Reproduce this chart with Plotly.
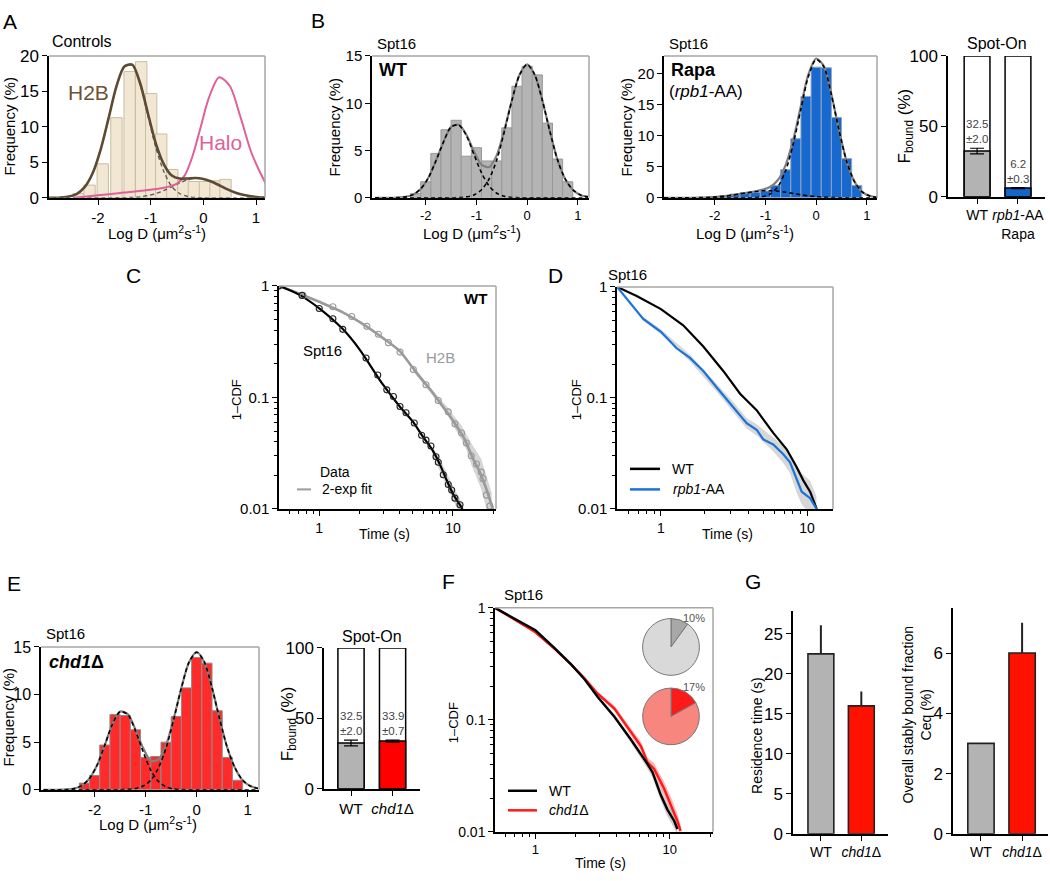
import plotly.graph_objects as go

W, H = 1050, 881

# ---------------- DATA ----------------
# shared Log D grid for the Gaussian-fit curves
logd_grid = [-3.0, -2.85, -2.7, -2.55, -2.4, -2.25, -2.1, -1.95, -1.8, -1.65, -1.5, -1.35, -1.2,
             -1.05, -0.9, -0.75, -0.6, -0.45, -0.3, -0.15, 0.0, 0.15, 0.3, 0.45, 0.6, 0.75, 0.9, 1.05, 1.2]

# A  Controls: H2B histogram + fits, Halo fit
a_bin_centers = [-2.37, -2.16, -1.91, -1.65, -1.40, -1.18, -0.99, -0.80, -0.59, -0.38, -0.18, 0.03, 0.23, 0.42]
a_h2b_freq = [0.6, 1.8, 4.8, 11.3, 17.8, 19.2, 14.7, 9.0, 4.0, 2.7, 2.3, 2.3, 2.4, 2.6]
a_fit_slow = [0, 0.01, 0.05, 0.18, 0.57, 1.54, 3.5, 6.8, 11.2, 15.7, 18.5, 18.7, 16.0, 11.5, 7.0, 3.7, 1.6,
              0.62, 0.19, 0.05, 0.01, 0, 0, 0, 0, 0, 0, 0, 0]
a_fit_fast = [0, 0, 0, 0, 0, 0, 0, 0, 0, 0.01, 0.02, 0.07, 0.15, 0.32, 0.61, 1.03, 1.55, 2.1, 2.54, 2.74,
              2.65, 2.3, 1.78, 1.23, 0.76, 0.43, 0.21, 0.09, 0.04]
a_fit_total = [0, 0.01, 0.05, 0.18, 0.57, 1.54, 3.5, 6.8, 11.2, 15.71, 18.52, 18.77, 16.15, 11.82, 7.61, 4.73,
               3.15, 2.72, 2.73, 2.79, 2.66, 2.3, 1.78, 1.23, 0.76, 0.43, 0.21, 0.09, 0.04]
halo_logd = [-2.45, -2.0, -1.5, -1.0, -0.7, -0.5, -0.35, -0.2, -0.05, 0.1, 0.3, 0.5, 0.7, 0.9, 1.05, 1.2]
halo_freq = [0, 0.35, 0.75, 1.15, 1.5, 2.0, 3.2, 6.0, 10.0, 14.0, 17.0, 15.8, 11.5, 6.6, 4.0, 1.8]

# B  Spt16 WT histogram + fits
wt_bin_centers = [-2.2, -2.0, -1.8, -1.6, -1.4, -1.2, -1.0, -0.8, -0.6, -0.4, -0.2, 0.0, 0.2, 0.4, 0.6, 0.8]
wt_freq = [0.45, 1.7, 4.7, 7.2, 8.2, 4.4, 5.3, 3.9, 3.9, 7.4, 11.8, 13.9, 13.0, 7.9, 4.1, 1.7]
wt_fit_slow = [0, 0, 0.005, 0.03, 0.10, 0.34, 0.94, 2.1, 3.9, 5.9, 7.5, 7.7, 6.6, 4.6, 2.65, 1.25, 0.49,
               0.16, 0.04, 0.01, 0, 0, 0, 0, 0, 0, 0, 0, 0]
wt_fit_fast = [0, 0, 0, 0, 0, 0, 0, 0, 0, 0, 0.01, 0.03, 0.10, 0.31, 0.86, 2.0, 4.0, 7.0, 10.3, 13.0, 14.1,
               13.0, 10.3, 7.0, 4.0, 2.0, 0.86, 0.31, 0.10]
wt_fit_total = [0, 0, 0.005, 0.03, 0.10, 0.34, 0.94, 2.1, 3.9, 5.9, 7.51, 7.73, 6.7, 4.91, 3.51, 3.25, 4.49,
                7.16, 10.34, 13.01, 14.1, 13.0, 10.3, 7.0, 4.0, 2.0, 0.86, 0.31, 0.10]

# B  Spt16 Rapa (rpb1-AA) histogram + fits
rapa_bin_centers = [-2.0, -1.8, -1.6, -1.4, -1.2, -1.0, -0.8, -0.6, -0.4, -0.2, 0.0, 0.2, 0.4, 0.6, 0.8]
rapa_freq = [0.2, 0.35, 0.6, 0.8, 0.9, 1.1, 2.0, 4.5, 9.5, 16.3, 21.0, 20.9, 12.9, 6.3, 2.0]
rapa_fit_slow = [0, 0, 0.003, 0.007, 0.017, 0.04, 0.08, 0.16, 0.27, 0.43, 0.63, 0.83, 1.01, 1.13, 1.14, 1.06,
                 0.90, 0.70, 0.49, 0.32, 0.19, 0.10, 0.05, 0.02, 0.01, 0, 0, 0, 0]
rapa_fit_fast = [0, 0, 0, 0, 0, 0, 0, 0, 0, 0, 0, 0.01, 0.05, 0.19, 0.65, 1.85, 4.4, 8.7, 14.3, 19.6, 22.2,
                 21.1, 16.6, 10.9, 5.9, 2.7, 1.0, 0.32, 0.08]
rapa_fit_total = [0, 0, 0.003, 0.007, 0.017, 0.04, 0.08, 0.16, 0.27, 0.43, 0.63, 0.84, 1.06, 1.32, 1.79, 2.91,
                  5.3, 9.4, 14.79, 19.92, 22.39, 21.2, 16.65, 10.92, 5.91, 2.7, 1.0, 0.32, 0.08]

# B / E  Spot-On bound fractions
spot_b_labels = ["WT", "<i>rpb1</i>-AA<br>Rapa"]
spot_b_fbound = [32.5, 6.2]
spot_b_err = [2.0, 0.3]
spot_e_labels = ["WT", "<i>chd1</i>Δ"]
spot_e_fbound = [32.5, 33.9]
spot_e_err = [2.0, 0.7]
spot_total = [100, 100]

# C  survival curves WT: Spt16 and H2B
c_spt16_t = [0.5, 0.743, 1.0, 1.265, 1.50, 2.24, 2.74, 3.2, 3.59, 4.02, 4.46, 5.14, 5.83, 6.29, 6.85, 7.47,
             7.77, 8.47, 9.23, 9.78, 10.35, 11.3]
c_spt16_p = [1.0, 0.822, 0.628, 0.507, 0.408, 0.226, 0.159, 0.117, 0.102, 0.083, 0.073, 0.059, 0.0458, 0.0414,
             0.0367, 0.0294, 0.0262, 0.0203, 0.0166, 0.0148, 0.0125, 0.0109]
c_spt16_fit_t = [0.5, 0.7, 1.0, 1.5, 2.0, 3.0, 4.0, 5.0, 6.0, 7.0, 8.0, 9.0, 10.0, 11.0, 11.8]
c_spt16_fit_p = [1.0, 0.84, 0.63, 0.41, 0.27, 0.13, 0.083, 0.061, 0.044, 0.034, 0.025, 0.018, 0.0137, 0.0114, 0.010]
c_spt16_band_t = [7.0, 8.0, 9.0, 10.0, 11.0, 11.8]
c_spt16_band_hi = [0.036, 0.028, 0.021, 0.016, 0.013, 0.011]
c_spt16_band_lo = [0.031, 0.022, 0.016, 0.012, 0.0095, 0.0085]
c_h2b_t = [0.5, 0.755, 1.265, 1.75, 2.27, 2.77, 3.29, 4.02, 5.06, 6.29, 7.77, 9.23, 10.35, 11.6, 12.6, 13.7,
           15.0, 16.3, 16.8, 17.8, 18.9]
c_h2b_p = [1.0, 0.822, 0.65, 0.531, 0.434, 0.369, 0.31, 0.255, 0.178, 0.13, 0.094, 0.0743, 0.058, 0.048, 0.039,
           0.030, 0.0253, 0.0214, 0.0187, 0.0133, 0.0106]
c_h2b_fit_t = [0.5, 0.75, 1.0, 1.5, 2.0, 3.0, 4.0, 5.0, 6.0, 7.0, 8.0, 10.0, 12.0, 14.0, 16.0, 18.0, 20.0]
c_h2b_fit_p = [1.0, 0.83, 0.72, 0.58, 0.475, 0.34, 0.26, 0.185, 0.14, 0.112, 0.09, 0.062, 0.044, 0.029, 0.021,
               0.0145, 0.0098]
c_h2b_band_t = [5.0, 6.3, 7.8, 9.2, 10.4, 11.6, 12.6, 13.7, 15.0, 16.3, 17.8, 19.5]
c_h2b_band_hi = [0.185, 0.137, 0.1, 0.081, 0.066, 0.056, 0.047, 0.039, 0.033, 0.028, 0.02, 0.014]
c_h2b_band_lo = [0.172, 0.124, 0.088, 0.069, 0.052, 0.042, 0.034, 0.025, 0.019, 0.015, 0.01, 0.008]

# D  survival Spt16 WT vs rpb1-AA
d_wt_t = [0.5, 0.682, 1.0, 1.42, 1.95, 2.67, 3.48, 4.52, 5.87, 7.26, 8.5, 9.43, 10.5, 11.65]
d_wt_p = [1.0, 0.828, 0.631, 0.451, 0.290, 0.175, 0.109, 0.0776, 0.0484, 0.0345, 0.0238, 0.0181, 0.0143, 0.01]
d_rpb1_t = [0.5, 0.614, 0.756, 1.0, 1.28, 1.58, 1.95, 2.41, 3.13, 3.86, 4.52, 5.02, 5.87, 6.88, 7.65, 8.5,
            9.2, 10.5, 11.65]
d_rpb1_p = [1.0, 0.723, 0.515, 0.394, 0.280, 0.229, 0.175, 0.124, 0.083, 0.0593, 0.0517, 0.0423, 0.0381,
            0.0311, 0.0263, 0.0188, 0.0143, 0.0125, 0.01]
d_band_t = [0.75, 1.0, 1.58, 2.41, 3.13, 3.86, 4.52, 5.87, 6.88, 7.65, 8.5, 9.2, 10.5, 11.6]
d_band_hi = [0.54, 0.415, 0.245, 0.135, 0.092, 0.066, 0.058, 0.044, 0.037, 0.032, 0.025, 0.021, 0.018, 0.013]
d_band_lo = [0.50, 0.375, 0.213, 0.113, 0.075, 0.053, 0.046, 0.033, 0.026, 0.021, 0.014, 0.011, 0.009, 0.008]

# E  Spt16 chd1Δ histogram + fits
chd1_bin_centers = [-2.2, -2.0, -1.8, -1.6, -1.4, -1.2, -1.0, -0.8, -0.6, -0.4, -0.2, 0.0, 0.2, 0.4, 0.6, 0.8]
chd1_freq = [0.7, 1.5, 4.7, 7.9, 7.8, 6.3, 3.4, 3.5, 5.0, 7.7, 10.7, 13.9, 13.3, 8.3, 3.4, 1.0]
chd1_fit_slow = [0, 0, 0.006, 0.03, 0.13, 0.44, 1.19, 2.6, 4.7, 6.9, 8.2, 7.9, 6.2, 4.0, 2.05, 0.88, 0.30,
                 0.08, 0.02, 0, 0, 0, 0, 0, 0, 0, 0, 0, 0]
chd1_fit_fast = [0, 0, 0, 0, 0, 0, 0, 0, 0, 0, 0.01, 0.04, 0.13, 0.39, 1.0, 2.3, 4.4, 7.4, 10.7, 13.4, 14.45,
                 13.4, 10.7, 7.4, 4.4, 2.3, 1.0, 0.39, 0.13]
chd1_fit_total = [0, 0, 0.006, 0.03, 0.13, 0.44, 1.19, 2.6, 4.7, 6.9, 8.21, 7.94, 6.33, 4.39, 3.05, 3.18, 4.7,
                  7.48, 10.72, 13.4, 14.45, 13.4, 10.7, 7.4, 4.4, 2.3, 1.0, 0.39, 0.13]

# F  survival Spt16 WT vs chd1Δ
f_wt_t = [0.5, 0.745, 1.0, 1.39, 1.85, 2.32, 2.91, 3.87, 5.14, 6.84, 7.44, 8.58, 9.61, 10.8, 11.4]
f_wt_p = [1.0, 0.77, 0.63, 0.436, 0.311, 0.230, 0.160, 0.1066, 0.0667, 0.0403, 0.0341, 0.0213, 0.0158, 0.0125, 0.0106]
f_chd1_t = [0.5, 0.745, 1.0, 1.39, 1.85, 2.32, 2.91, 3.87, 5.14, 6.1, 6.84, 7.65, 9.07, 10.47, 11.4, 12.06]
f_chd1_p = [1.0, 0.755, 0.605, 0.43, 0.311, 0.235, 0.171, 0.126, 0.0789, 0.0583, 0.0417, 0.0365, 0.0244,
            0.0163, 0.0125, 0.0102]
f_wt_band_t = [2.9, 3.9, 5.1, 6.8, 7.4, 8.6, 9.6, 10.8, 11.4]
f_wt_band_hi = [0.165, 0.111, 0.07, 0.043, 0.037, 0.024, 0.018, 0.0145, 0.012]
f_wt_band_lo = [0.155, 0.102, 0.063, 0.037, 0.031, 0.019, 0.0138, 0.0108, 0.0095]
f_chd1_band_t = [2.9, 3.9, 5.1, 6.1, 6.8, 7.65, 9.07, 10.47, 11.4, 12.06]
f_chd1_band_hi = [0.178, 0.133, 0.085, 0.064, 0.046, 0.041, 0.028, 0.019, 0.0145, 0.0115]
f_chd1_band_lo = [0.164, 0.119, 0.073, 0.053, 0.038, 0.032, 0.021, 0.014, 0.011, 0.0092]
pie_wt = [10, 90]
pie_chd1 = [17, 83]

# G  residence time and stably bound fraction
g_labels = ["WT", "<i>chd1</i>Δ"]
g_residence = [22.5, 16.0]
g_residence_err = [3.6, 1.8]
g_ceq = [3.0, 6.0]
g_ceq_err = [0.0, 1.0]

# ---------------- helpers ----------------
FONT = "Arial, Liberation Sans, sans-serif"


def dom_x(x0, x1):
    return [x0 / W, x1 / W]


def dom_y(y0, y1):
    return [1 - y1 / H, 1 - y0 / H]


def axis(dom, rng, tickvals, ticktext=None, size=14, anchor=None, log=False, minor=None):
    d = dict(domain=dom, range=rng, showline=True, linecolor="black", linewidth=1.5,
             ticks="outside", ticklen=5, tickwidth=1.3, tickcolor="black", showgrid=False,
             zeroline=False, fixedrange=True, tickvals=tickvals, tickfont=dict(size=size, color="black"),
             anchor=anchor)
    if ticktext is not None:
        d["ticktext"] = ticktext
    if log:
        d["type"] = "log"
    if minor is not None:
        d["minor"] = dict(ticks="outside", ticklen=3, tickwidth=1, tickcolor="black", tickvals=minor)
    return d


def T(text, x, y, size=14, color="black", xanchor="center", yanchor="middle", angle=0):
    return dict(text=text, x=x / W, y=1 - y / H, xref="paper", yref="paper", showarrow=False,
                font=dict(size=size, color=color, family=FONT), xanchor=xanchor, yanchor=yanchor,
                textangle=angle)


fig = go.Figure()


def line(x, y, ax, color, width=2, dash=None, spline=True):
    fig.add_trace(go.Scatter(x=x, y=y, mode="lines", xaxis="x" + ax, yaxis="y" + ax, hoverinfo="skip",
                             line=dict(color=color, width=width, dash=dash,
                                       shape="spline" if spline else "linear", smoothing=0.8)))


def band(t, hi, lo, ax, color):
    fig.add_trace(go.Scatter(x=t + t[::-1], y=hi + lo[::-1], mode="lines", fill="toself", fillcolor=color,
                             line=dict(width=0, color=color), xaxis="x" + ax, yaxis="y" + ax,
                             hoverinfo="skip"))


def hist(centers, freq, ax, fill, edge, width=0.2):
    fig.add_trace(go.Bar(x=centers, y=freq, width=width, xaxis="x" + ax, yaxis="y" + ax, hoverinfo="skip",
                         marker=dict(color=fill, line=dict(color=edge, width=1))))


DASH = "4px,3px"

# ---- A ----
hist(a_bin_centers, a_h2b_freq, "", "#f1e7d3", "#cbbd9f", 0.215)
line(logd_grid, a_fit_slow, "", "#555555", 1.3, DASH)
line(logd_grid, a_fit_fast, "", "#555555", 1.3, DASH)
line(halo_logd, halo_freq, "", "#e0609a", 2)
line(logd_grid, a_fit_total, "", "#5c4a33", 2.6)

# ---- B WT ----
hist(wt_bin_centers, wt_freq, "2", "#b4b4b4", "#989898")
line(logd_grid, wt_fit_total, "2", "#808080", 2.2)
line(logd_grid, wt_fit_slow, "2", "black", 1.6, DASH)
line(logd_grid, wt_fit_fast, "2", "black", 1.6, DASH)

# ---- B Rapa ----
hist(rapa_bin_centers, rapa_freq, "3", "#1769d0", "#8ea3c2")
line(logd_grid, rapa_fit_total, "3", "#808080", 2.2)
line(logd_grid, rapa_fit_slow, "3", "black", 1.6, DASH)
line(logd_grid, rapa_fit_fast, "3", "black", 1.6, DASH)


# ---- Spot-On bars ----
def spot(labels_idx, vals, errs, colors, ax):
    fig.add_trace(go.Bar(x=labels_idx, y=spot_total, width=0.63, xaxis="x" + ax, yaxis="y" + ax,
                         hoverinfo="skip", marker=dict(color="white", line=dict(color="black", width=1.5))))
    fig.add_trace(go.Bar(x=labels_idx, y=vals, width=0.63, xaxis="x" + ax, yaxis="y" + ax, hoverinfo="skip",
                         marker=dict(color=colors, line=dict(color="black", width=1.5)),
                         error_y=dict(type="data", array=errs, color="black", thickness=1.2, width=7)))


spot([0, 1], spot_b_fbound, spot_b_err, ["#b3b3b3", "#1565c8"], "4")
spot([0, 1], spot_e_fbound, spot_e_err, ["#b3b3b3", "#ff0000"], "8")

# ---- C ----
band(c_h2b_band_t, c_h2b_band_hi, c_h2b_band_lo, "5", "rgba(200,200,200,0.75)")
band(c_spt16_band_t, c_spt16_band_hi, c_spt16_band_lo, "5", "rgba(200,200,200,0.75)")
line(c_h2b_fit_t, c_h2b_fit_p, "5", "#9a9a9a", 2.6)
line(c_spt16_fit_t, c_spt16_fit_p, "5", "black", 2.2)
fig.add_trace(go.Scatter(x=c_h2b_t, y=c_h2b_p, mode="markers", xaxis="x5", yaxis="y5", hoverinfo="skip",
                         marker=dict(symbol="circle-open", size=6, color="#9a9a9a", line=dict(width=1.1))))
fig.add_trace(go.Scatter(x=c_spt16_t, y=c_spt16_p, mode="markers", xaxis="x5", yaxis="y5", hoverinfo="skip",
                         marker=dict(symbol="circle-open", size=6, color="#222222", line=dict(width=1.1))))

# ---- D ----
band(d_band_t, d_band_hi, d_band_lo, "6", "rgba(205,205,205,0.8)")
line(d_wt_t, d_wt_p, "6", "black", 2.2, spline=False)
line(d_rpb1_t, d_rpb1_p, "6", "#1a73d9", 2.2, spline=False)

# ---- E ----
hist(chd1_bin_centers, chd1_freq, "7", "#ff2b2b", "#8c8c8c")
line(logd_grid, chd1_fit_total, "7", "#808080", 2.2)
line(logd_grid, chd1_fit_slow, "7", "black", 1.6, DASH)
line(logd_grid, chd1_fit_fast, "7", "black", 1.6, DASH)

# ---- F ----
band(f_chd1_band_t, f_chd1_band_hi, f_chd1_band_lo, "9", "rgba(245,150,150,0.7)")
band(f_wt_band_t, f_wt_band_hi, f_wt_band_lo, "9", "rgba(190,190,190,0.8)")
line(f_chd1_t, f_chd1_p, "9", "#ff1a1a", 2.4, spline=False)
line(f_wt_t, f_wt_p, "9", "black", 2.4, spline=False)
fig.add_trace(go.Pie(values=pie_wt, domain=dict(x=dom_x(642, 700), y=dom_y(623, 681)), sort=False,
                     direction="clockwise", rotation=0, textinfo="none", hoverinfo="skip", showlegend=False,
                     marker=dict(colors=["#a8a8a8", "#d9d9d9"], line=dict(color="#777777", width=1))))
fig.add_trace(go.Pie(values=pie_chd1, domain=dict(x=dom_x(642, 700), y=dom_y(694, 752)), sort=False,
                     direction="clockwise", rotation=0, textinfo="none", hoverinfo="skip", showlegend=False,
                     marker=dict(colors=["#ff1a1a", "#f6867e"], line=dict(color="#777777", width=1))))

# ---- G ----
fig.add_trace(go.Bar(x=[0, 1], y=g_residence, width=0.64, xaxis="x10", yaxis="y10", hoverinfo="skip",
                     marker=dict(color=["#b3b3b3", "#ff1100"], line=dict(color="#222222", width=1.6)),
                     error_y=dict(type="data", symmetric=False, array=g_residence_err, arrayminus=[0, 0],
                                  color="#222222", thickness=2, width=0)))
fig.add_trace(go.Bar(x=[0, 1], y=g_ceq, width=0.64, xaxis="x11", yaxis="y11", hoverinfo="skip",
                     marker=dict(color=["#b3b3b3", "#ff1100"], line=dict(color="#222222", width=1.6)),
                     error_y=dict(type="data", symmetric=False, array=g_ceq_err, arrayminus=[0, 0],
                                  color="#222222", thickness=2, width=0)))

# ---------------- layout ----------------
hist_x_ticks = [-2, -1, 0, 1]
hist_x_text = ["-2", "-1", "0", "1"]
log_minor_x = [0.6, 0.7, 0.8, 0.9, 2, 3, 4, 5, 6, 7, 8, 9, 20]
log_minor_y = [0.02, 0.03, 0.04, 0.05, 0.06, 0.07, 0.08, 0.09, 0.2, 0.3, 0.4, 0.5, 0.6, 0.7, 0.8, 0.9]
LX = [-0.30103, 1.32222]

lay = dict(
    xaxis=axis(dom_x(49, 265), [-2.93, 1.17], hist_x_ticks, hist_x_text, 15, "y"),
    yaxis=axis(dom_y(48, 193), [0, 20], [0, 5, 10, 15, 20], None, 17, "x"),
    xaxis2=axis(dom_x(372, 589), [-3.06, 1.22], hist_x_ticks, hist_x_text, 13, "y2"),
    yaxis2=axis(dom_y(48, 193), [0, 15], [0, 5, 10, 15], None, 15, "x2"),
    xaxis3=axis(dom_x(664, 877), [-3.0, 1.2], hist_x_ticks, hist_x_text, 13, "y3"),
    yaxis3=axis(dom_y(48, 193), [0, 22.8], [0, 5, 10, 15, 20], None, 15, "x3"),
    xaxis4=axis(dom_x(948, 1045), [-0.71, 1.66], [0, 1], spot_b_labels, 14, "y4"),
    yaxis4=axis(dom_y(48, 192), [0, 100], [0, 50, 100], None, 17, "x4"),
    xaxis5=axis(dom_x(279, 496), LX, [1, 10], ["1", "10"], 14, "y5", True, log_minor_x),
    yaxis5=axis(dom_y(283, 511), [-2, 0], [0.01, 0.1, 1], ["0.01", "0.1", "1"], 15, "x5", True, log_minor_y),
    xaxis6=axis(dom_x(617, 833), [-0.30103, 1.178], [1, 10], ["1", "10"], 14, "y6", True, log_minor_x),
    yaxis6=axis(dom_y(284, 511), [-2, 0], [0.01, 0.1, 1], ["0.01", "0.1", "1"], 15, "x6", True, log_minor_y),
    xaxis7=axis(dom_x(41, 259), [-3.05, 1.22], hist_x_ticks, hist_x_text, 15, "y7"),
    yaxis7=axis(dom_y(652, 798), [0, 15], [0, 5, 10, 15], None, 16, "x7"),
    xaxis8=axis(dom_x(324, 420), [-0.65, 1.66], [0, 1], spot_e_labels, 15, "y8"),
    yaxis8=axis(dom_y(653, 797), [0, 100], [0, 50, 100], None, 17, "x8"),
    xaxis9=axis(dom_x(495, 713), LX, [1, 10], ["1", "10"], 13, "y9", True, log_minor_x),
    yaxis9=axis(dom_y(612, 841), [-2, 0], [0.01, 0.1, 1], ["0.01", "0.1", "1"], 14, "x9", True, log_minor_y),
    xaxis10=axis(dom_x(793, 888), [-0.69, 1.66], [0, 1], g_labels, 14, "y10"),
    yaxis10=axis(dom_y(615, 843), [0, 27.9], [0, 5, 10, 15, 20, 25], None, 17, "x10"),
    xaxis11=axis(dom_x(953, 1048), [-0.68, 1.63], [0, 1], g_labels, 14, "y11"),
    yaxis11=axis(dom_y(612, 843), [0, 7.5], [0, 2, 4, 6], None, 17, "x11"),
)

# gray top/right frame lines of boxed panels
shapes = []
for n in ["", "2", "3", "5", "6", "7", "9"]:
    xr, yr = "x" + n + " domain", "y" + n + " domain"
    shapes.append(dict(type="line", xref=xr, yref=yr, x0=0, x1=1, y0=1, y1=1,
                       line=dict(color="#a6a6a6", width=1.5)))
    shapes.append(dict(type="line", xref=xr, yref=yr, x0=1, x1=1, y0=0, y1=1,
                       line=dict(color="#a6a6a6", width=1.5)))


def key(x0, x1, y, color, width=2.5):
    shapes.append(dict(type="line", xref="paper", yref="paper", x0=x0 / W, x1=x1 / W, y0=1 - y / H,
                       y1=1 - y / H, line=dict(color=color, width=width)))


key(297, 311, 491, "#9a9a9a", 2)
key(630, 660, 470, "black")
key(630, 660, 491, "#1a73d9")
key(508, 537, 799, "black")
key(508, 537, 819, "#ff1a1a")

LOGD = "Log D (μm<sup>2</sup>s<sup>-1</sup>)"
FB = "F<sub>bound</sub> (%)"
ann = [
    # panel letters
    T("A", 10, 13, 21), T("B", 318, 12, 21), T("C", 133, 272, 21), T("D", 555, 272, 21),
    T("E", 14, 587, 21), T("F", 448, 585, 21), T("G", 753, 585, 21),
    # A
    T("Controls", 82, 33, 16), T("H2B", 88, 85, 21, "#6b5232"), T("Halo", 220, 136, 21, "#e0609a"),
    T("Frequency (%)", 9, 120, 15, angle=-90), T(LOGD, 157, 228, 15),
    # B
    T("Spt16", 396, 35, 15), T("<b>WT</b>", 377, 62, 18, xanchor="left"),
    T("Frequency (%)", 334, 121, 15, angle=-90), T(LOGD, 472, 228, 15),
    T("Spt16", 688, 35, 15), T("<b>Rapa</b>", 669, 62, 18, xanchor="left"),
    T("(<i>rpb1</i>-AA)", 667, 84, 17, xanchor="left"),
    T("Frequency (%)", 626, 121, 15, angle=-90), T(LOGD, 745, 228, 15),
    T("Spot-On", 997, 35, 16), T(FB, 906, 120, 17, angle=-90),
    # C
    T("<b>WT</b>", 489, 296, 15, xanchor="right"), T("Spt16", 322, 349, 15), T("H2B", 440, 356, 15, "#9a9a9a"),
    T("Data", 335, 473, 14), T("2-exp fit", 320, 491, 14, xanchor="left"),
    T("1–CDF", 236, 400, 13, angle=-90), T("Time (s)", 384, 537, 14),
    # D
    T("Spt16", 627, 271, 15), T("WT", 670, 470, 14, xanchor="left"),
    T("<i>rpb1</i>-AA", 671, 491, 14, xanchor="left"),
    T("1–CDF", 576, 400, 13, angle=-90), T("Time (s)", 727, 537, 14),
    # E
    T("Spt16", 65, 638, 15), T("<b><i>chd1</i>Δ</b>", 47, 667, 18, xanchor="left"),
    T("Frequency (%)", 8, 724, 15, angle=-90), T(LOGD, 148, 832, 15),
    T("Spot-On", 372, 641, 16), T(FB, 289, 731, 17, angle=-90),
    # F
    T("Spt16", 523, 598, 15), T("WT", 547, 799, 14, xanchor="left"),
    T("<i>chd1</i>Δ", 547, 819, 14, xanchor="left"),
    T("10%", 694, 622, 11, "#555555"), T("17%", 694, 693, 11, "#555555"),
    T("1–CDF", 453, 730, 13, angle=-90), T("Time (s)", 600, 873, 14),
    # G
    T("Residence time (s)", 757, 743, 14, angle=-90),
    T("Overall stably bound fraction<br>Ceq (%)", 917, 722, 14, angle=-90),
]

# Spot-On value labels above bars (data coordinates)
for ax, vals, errs in [("4", spot_b_fbound, spot_b_err), ("8", spot_e_fbound, spot_e_err)]:
    for i, (v, e) in enumerate(zip(vals, errs)):
        ann.append(dict(text=f"{v:.1f}<br>±{e:.1f}", x=i, y=v + e, xref="x" + ax, yref="y" + ax,
                        showarrow=False, yanchor="bottom", yshift=1,
                        font=dict(size=11.5, color="#444444", family=FONT)))

fig.update_layout(
    width=W, height=H, margin=dict(l=0, r=0, t=0, b=0), paper_bgcolor="white", plot_bgcolor="rgba(0,0,0,0)",
    showlegend=False, barmode="overlay", hovermode=False,
    font=dict(family=FONT, color="black", size=14),
    shapes=shapes, annotations=ann, **lay,
)

fig.write_html("out.html", config={"displayModeBar": False, "responsive": False},
               post_script="document.body.style.margin='0px';document.body.style.overflow='hidden';")
